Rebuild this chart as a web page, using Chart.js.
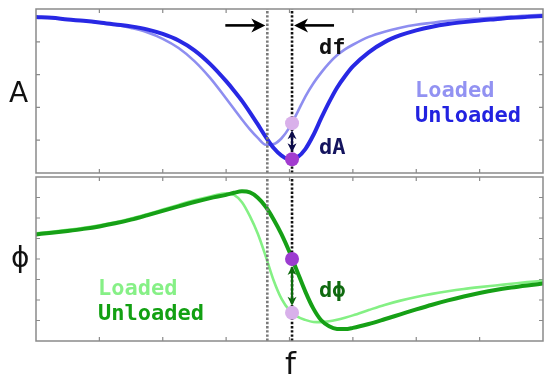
<!DOCTYPE html>
<html><head><meta charset="utf-8">
<script src="https://cdn.jsdelivr.net/npm/chart.js@4/dist/chart.umd.min.js"></script>
<style>
html,body{margin:0;padding:0;background:#fff;}
body{width:550px;height:377px;overflow:hidden;position:relative;}
.box{position:absolute;left:0;width:550px;}
.lbl{position:absolute;white-space:nowrap;line-height:1;}
.big{font-family:"DejaVu Sans",sans-serif;font-size:28px;color:#111;}
.mono{font-family:"DejaVu Sans Mono",monospace;font-weight:bold;font-size:22px;}
</style></head>
<body>
<div class="box" style="top:0;height:180px"><canvas id="c1"></canvas></div>
<div class="box" style="top:170px;height:207px"><canvas id="c2"></canvas></div>
<div class="lbl big" style="left:9px;top:79px">A</div>
<div class="lbl big" style="left:11px;top:244px">ϕ</div>
<div class="lbl big" style="left:285px;top:348px;font-size:31px">f</div>
<div class="lbl mono" style="left:415px;top:79px;color:#9292f2">Loaded</div>
<div class="lbl mono" style="left:415px;top:104px;color:#2222e0">Unloaded</div>
<div class="lbl mono" style="left:98px;top:277px;color:#86f086">Loaded</div>
<div class="lbl mono" style="left:98px;top:302px;color:#12a012">Unloaded</div>
<div class="lbl mono" style="left:319px;top:36px;color:#111">df</div>
<div class="lbl mono" style="left:319px;top:136px;color:#14145e">dA</div>
<div class="lbl mono" style="left:319px;top:279px;color:#0f6a0f">dϕ</div>
<script>
// ---- data ----
const freq = [0,0.25,0.5,0.75,1,1.25,1.5,1.75,2,2.25,2.5,2.75,3,
  3.125,3.25,3.375,3.5,3.625,3.75,3.875,4,4.125,4.25,4.375,4.5,4.625,4.75,4.875,
  5,5.25,5.5,5.75,6,6.25,6.5,6.75,7,7.25,7.5,7.75,8];
const ampUnloaded = [4.76,4.73,4.68,4.64,4.59,4.53,4.47,4.38,4.24,4.04,3.74,3.32,2.80,
  2.51,2.20,1.85,1.48,1.10,0.76,0.53,0.41,0.48,0.73,1.15,1.67,2.16,2.60,2.95,
  3.25,3.68,3.99,4.20,4.35,4.46,4.54,4.60,4.65,4.69,4.73,4.76,4.79];
const ampLoaded = [4.76,4.73,4.68,4.64,4.58,4.52,4.42,4.29,4.09,3.81,3.41,2.89,2.27,
  1.95,1.63,1.33,1.07,0.86,0.88,1.06,1.39,1.85,2.33,2.73,3.06,3.35,3.59,3.77,
  3.91,4.15,4.31,4.43,4.52,4.58,4.64,4.68,4.71,4.74,4.77,4.80,4.82];
const phaseUnloaded = [1.20,1.28,1.37,1.47,1.59,1.74,1.92,2.13,2.35,2.57,2.78,2.97,3.13,
  3.23,3.30,3.25,2.99,2.55,1.93,1.20,0.34,-0.63,-1.59,-2.41,-2.99,-3.28,-3.41,-3.42,
  -3.36,-3.17,-2.94,-2.70,-2.46,-2.23,-2.02,-1.83,-1.66,-1.51,-1.39,-1.29,-1.20];
const phaseLoaded = [1.25,1.33,1.42,1.52,1.64,1.79,1.97,2.18,2.41,2.64,2.86,3.05,3.20,
  3.13,2.77,2.09,1.23,0.13,-1.05,-1.95,-2.51,-2.81,-2.97,-3.07,-3.08,-3.04,-2.96,-2.86,
  -2.75,-2.49,-2.24,-2.03,-1.85,-1.70,-1.57,-1.46,-1.37,-1.29,-1.21,-1.13,-1.06];
const fUnloaded = 4.04;   // black dotted line
const fLoaded = 3.65;     // grey dotted line
const ampDots = [0.42, 1.52];     // [unloaded, loaded] at fUnloaded
const phaseDots = [0.0, -2.62];   // [unloaded, loaded] at fUnloaded
const xTicks = [0,1,2,3,4,5,6,7,8];
const ampTicks = [0,1,2,3,4,5];
const phaseTicks = [-4,-3,-2,-1,0,1,2,3,4];

const pts = (ys) => freq.map((x,i)=>({x:x,y:ys[i]}));

function head(ctx,x,y,ang,len,half){
  ctx.save();ctx.translate(x,y);ctx.rotate(ang);
  ctx.beginPath();ctx.moveTo(0,0);ctx.lineTo(-len,-half);ctx.lineTo(-len*0.72,0);ctx.lineTo(-len,half);ctx.closePath();ctx.fill();
  ctx.restore();
}

const decor = {
  id:'decor',
  beforeDatasetsDraw(chart){
    const c = chart.options.plugins.decor; const ctx = chart.ctx; const a = chart.chartArea;
    const xs = chart.scales.x, ys = chart.scales.y;
    ctx.save(); ctx.strokeStyle='#8a8a8a'; ctx.lineWidth=1.2;
    xTicks.forEach(v=>{ if(v<=xs.min||v>=xs.max) return; const p=xs.getPixelForValue(v);
      ctx.beginPath();ctx.moveTo(p,a.top);ctx.lineTo(p,a.top+4);ctx.moveTo(p,a.bottom);ctx.lineTo(p,a.bottom-4);ctx.stroke();});
    c.yTicks.forEach(v=>{ if(v<=ys.min||v>=ys.max) return; const p=ys.getPixelForValue(v);
      ctx.beginPath();ctx.moveTo(a.left,p);ctx.lineTo(a.left+4,p);ctx.moveTo(a.right,p);ctx.lineTo(a.right-4,p);ctx.stroke();});
    ctx.restore();
  },
  afterDatasetsDraw(chart){
    const c = chart.options.plugins.decor; const ctx = chart.ctx; const a = chart.chartArea;
    const xs = chart.scales.x, ys = chart.scales.y;
    ctx.save();
    ctx.strokeStyle='#8a8a8a'; ctx.lineWidth=1.5;
    ctx.strokeRect(a.left, a.top, a.right-a.left, a.bottom-a.top);
    const xp = xs.getPixelForValue(fUnloaded);
    const y1 = ys.getPixelForValue(c.dots[1]), y2 = ys.getPixelForValue(c.dots[0]);
    const dir = Math.sign(y2-y1);
    const s = y1 + dir*7, e = y2 - dir*7;
    ctx.strokeStyle=c.arrowColor; ctx.fillStyle=c.arrowColor; ctx.lineWidth=2.2;
    ctx.beginPath();ctx.moveTo(xp,s+dir*6);ctx.lineTo(xp,e-dir*6);ctx.stroke();
    head(ctx,xp,s,dir>0?-Math.PI/2:Math.PI/2,9,4.5);
    head(ctx,xp,e,dir>0?Math.PI/2:-Math.PI/2,9,4.5);
    if(c.df){
      const yp = ys.getPixelForValue(c.df);
      const pL = xs.getPixelForValue(fLoaded), pU = xs.getPixelForValue(fUnloaded);
      ctx.strokeStyle='#000'; ctx.fillStyle='#000'; ctx.lineWidth=2.6;
      ctx.beginPath();ctx.moveTo(pL-42,yp);ctx.lineTo(pL-12,yp);ctx.stroke();
      head(ctx,pL-2,yp,0,14,7);
      ctx.beginPath();ctx.moveTo(pU+42,yp);ctx.lineTo(pU+12,yp);ctx.stroke();
      head(ctx,pU+2,yp,Math.PI,14,7);
    }
    ctx.restore();
  }
};

function vline(x, ymin, ymax, color, ord){
  return {data:[{x:x,y:ymin},{x:x,y:ymax}], borderColor:color, borderWidth:2.6, borderDash:[2.4,1.8], pointRadius:0, tension:0, order:ord, clip:false};
}

function make(id, yMin, yMax, dark, light, dots, cols, yT, pad, extra){
  return new Chart(document.getElementById(id), {
    type:'line',
    data:{datasets:[
      {data:[{x:fUnloaded,y:dots[0]}], showLine:false, pointRadius:7, pointBackgroundColor:cols.dotDark, pointBorderWidth:0, order:0},
      {data:[{x:fUnloaded,y:dots[1]}], showLine:false, pointRadius:7, pointBackgroundColor:cols.dotLight, pointBorderWidth:0, order:0},
      vline(fUnloaded, yMin, yMax, '#111', 1),
      vline(fLoaded, yMin, yMax, '#7a7a7a', 1),
      {data:pts(dark), borderColor:cols.dark, borderWidth:4, pointRadius:0, cubicInterpolationMode:'monotone', borderCapStyle:'round', borderJoinStyle:'round', order:2},
      {data:pts(light), borderColor:cols.light, borderWidth:2.6, pointRadius:0, cubicInterpolationMode:'monotone', borderJoinStyle:'round', order:3}
    ]},
    options:{
      responsive:true, maintainAspectRatio:false, animation:false, devicePixelRatio:1,
      layout:{padding:pad},
      scales:{
        x:{type:'linear', min:0, max:8, display:false},
        y:{type:'linear', min:yMin, max:yMax, display:false}
      },
      plugins:{legend:{display:false}, tooltip:{enabled:false},
        decor:Object.assign({yTicks:yT, dots:dots, arrowColor:cols.arrow}, extra)}
    },
    plugins:[decor]
  });
}

make('c1', 0, 5, ampUnloaded, ampLoaded, ampDots,
  {dark:'#2828e4', light:'#8e8ef0', dotDark:'#a23ccf', dotLight:'#d9b0ea', arrow:'#0c0c4a'},
  ampTicks, {left:36, right:1, top:9, bottom:6}, {df:4.5});
make('c2', -4, 4, phaseUnloaded, phaseLoaded, phaseDots,
  {dark:'#16a016', light:'#84f084', dotDark:'#9c3dd0', dotLight:'#d8b0ea', arrow:'#0d6a0d'},
  phaseTicks, {left:36, right:1, top:5, bottom:36}, {});
</script>
</body></html>
